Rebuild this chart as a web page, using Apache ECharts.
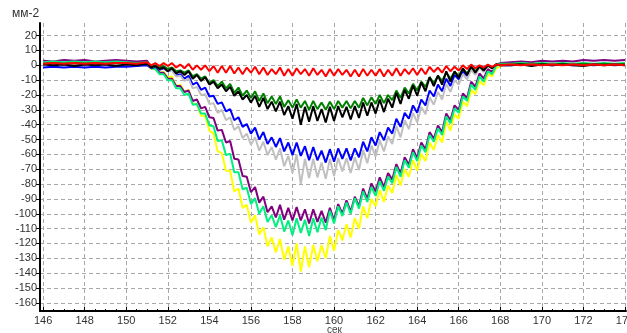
<!DOCTYPE html>
<html>
<head>
<meta charset="utf-8">
<script src="https://cdn.jsdelivr.net/npm/echarts@6/dist/echarts.min.js"></script>
<style>
  html, body { margin: 0; padding: 0; background: #fff; }
  #chart { width: 627px; height: 333px; }
</style>
</head>
<body>
<div id="chart"></div>
<script>
// time, s
const times = [
  146, 146.5, 147, 147.5, 148, 148.5, 149, 149.5, 150, 150.5,
  151, 151.2, 151.4, 151.6, 151.8, 152, 152.2, 152.4, 152.6, 152.8,
  153, 153.2, 153.4, 153.6, 153.8, 154, 154.2, 154.4, 154.6, 154.8,
  155, 155.2, 155.4, 155.6, 155.8, 156, 156.2, 156.4, 156.6, 156.8,
  157, 157.2, 157.4, 157.6, 157.8, 158, 158.2, 158.4, 158.6, 158.8,
  159, 159.2, 159.4, 159.6, 159.8, 160, 160.2, 160.4, 160.6, 160.8,
  161, 161.2, 161.4, 161.6, 161.8, 162, 162.2, 162.4, 162.6, 162.8,
  163, 163.2, 163.4, 163.6, 163.8, 164, 164.2, 164.4, 164.6, 164.8,
  165, 165.2, 165.4, 165.6, 165.8, 166, 166.2, 166.4, 166.6, 166.8,
  167, 167.2, 167.4, 167.6, 167.8, 168,
  168.5, 169, 169.5, 170, 170.5, 171, 171.5, 172, 172.5, 173, 173.5, 174
]

const xTicks = [146, 148, 150, 152, 154, 156, 158, 160, 162, 164, 166, 168, 170, 172, 174]
const xMinorTicks = [
  146, 146.5, 147, 147.5, 148, 148.5, 149, 149.5, 150, 150.5, 151, 151.5, 152, 152.5,
  153, 153.5, 154, 154.5, 155, 155.5, 156, 156.5, 157, 157.5, 158, 158.5, 159, 159.5,
  160, 160.5, 161, 161.5, 162, 162.5, 163, 163.5, 164, 164.5, 165, 165.5, 166, 166.5,
  167, 167.5, 168, 168.5, 169, 169.5, 170, 170.5, 171, 171.5, 172, 172.5, 173, 173.5, 174
]
const yTicks = [20, 10, 0, -10, -20, -30, -40, -50, -60, -70, -80, -90, -100, -110, -120, -130, -140, -150, -160]

const yellow = [
  1, 1.5, 1, 1.5, 1, 1.5, 1, 1.5, 1, 1.5,
  1, -2.5, -2, -5, -4.5, -8, -7.5, -14, -13, -18,
  -16.5, -26, -26, -34, -34, -44, -46, -58, -59, -71,
  -71, -85, -83, -96, -94, -106, -101, -114, -109, -122,
  -116, -126, -117, -131, -122, -135, -120, -139, -122, -136,
  -121, -132, -121, -130, -115, -125, -111, -118, -107, -116,
  -103, -110, -95, -103, -90, -95, -84, -92, -81, -86,
  -74, -81, -70, -75, -64, -71, -59.5, -64.5, -52, -57,
  -47, -52, -38, -44, -33, -36, -24.5, -27.5, -16.5, -19.5,
  -10.5, -13.5, -6, -7.5, -2, -0.5,
  0.5, 1, 0.5, 1, 0.5, 1, 0.5, 1, 0.5, 1, 0.5, 1
]

const mint = [
  2, 2.5, 2, 2.5, 2, 2.5, 2, 2.5, 2, 1.5,
  2, -2, -2.5, -6, -6, -10, -10, -15.5, -15.5, -20,
  -19, -26.5, -26, -32.5, -32.5, -40.5, -41, -51, -50.5, -60.5,
  -59.5, -72, -72, -83.5, -82.5, -93.5, -89.5, -100, -95, -105.5,
  -101, -109, -101, -112, -104.5, -114.5, -103, -113, -104, -115,
  -103, -112.5, -102.5, -111, -98, -106.5, -95, -101.5, -92.5, -100,
  -89.5, -96.5, -85, -92, -82, -88, -78, -84.5, -75, -79.5,
  -68.5, -75, -64, -69, -58.5, -64.5, -54, -58.5, -47, -51.5,
  -42.5, -47, -34.5, -39, -29, -32, -21, -24, -13, -16.5,
  -7.5, -11, -4, -6, -0.5, 1,
  1, 1.5, 1, 1.5, 1, 1.5, 1, 1.5, 1, 1.5, 1, 1.5
]

const purple = [
  3, 2.5, 3.5, 3, 3.5, 2.5, 3, 3.5, 3, 2.5,
  3, -1, -1.5, -5, -5, -9, -9, -14, -14, -18,
  -17, -24, -23, -29, -28, -35, -35.5, -44, -43.5, -52,
  -51, -63, -63.5, -74.5, -75, -85.5, -82, -92.5, -88.5, -99,
  -95, -102.5, -94, -104, -96, -104.5, -95.5, -104.5, -97, -106.5,
  -97, -105.5, -98, -106, -96, -104.5, -93.5, -100, -91, -98.5,
  -88.5, -95, -83, -90, -79.5, -85, -75.5, -82, -72.5, -77,
  -66.5, -73, -62, -67, -56.5, -62.5, -52, -56.5, -45, -49.5,
  -40.5, -45, -32.5, -37, -27, -30, -19, -22, -11, -14.5,
  -5.5, -9, -2.5, -4.5, 0.5, 1.5,
  2, 2.5, 2, 3, 2.5, 3, 2.5, 3.5, 3, 3.5, 3, 3.5
]

const gray = [
  0.5, 1, 0.5, 1, 0.5, 1, 0.5, 1, 0.5, 0.5,
  1, -1.5, -0.5, -2.5, -1.5, -4, -3, -7.5, -7, -10.5,
  -9, -15.5, -14.5, -20, -19.5, -26, -25.5, -32, -30, -37,
  -35, -43.5, -41, -49, -46, -53.5, -48.5, -57.5, -51.5, -60.5,
  -55, -63.5, -56, -68, -61, -72.5, -60, -80, -63, -76,
  -63, -75.5, -65.5, -76.5, -63, -74.5, -62.5, -71.5, -62.5, -72.5,
  -62, -70.5, -57, -66, -54, -61.5, -50.5, -58, -48, -53,
  -41, -48.5, -37, -43, -32, -38.5, -28, -33, -21.5, -26.5,
  -18, -23, -12.5, -18, -10, -13, -6, -9.5, -3, -6.5,
  -1.5, -4.5, -0.5, -2.5, 0.5, 0.5,
  0.5, 1, 0.5, 1, 0.5, 1, 0.5, 1, 0.5, 1, 0.5, 1
]

const blue = [
  -1.5, -1, -1.5, -1, -1.5, -1, -1.5, -1, -1, -0.5,
  0, -2, -1, -3, -2, -4, -3, -7, -6, -9,
  -7, -13, -11.5, -16.5, -15, -21, -20.5, -26, -25, -31,
  -29.5, -37, -35, -41.5, -39.5, -46, -42, -50, -45, -53,
  -48.5, -55, -49, -58, -52, -60.5, -52, -61, -54.5, -64,
  -55, -64, -57.5, -65.5, -56.5, -65, -56, -63, -56, -64,
  -56, -62, -51.5, -58, -48.5, -54, -45, -50.5, -42, -46,
  -36, -41.5, -32, -36, -27, -32, -23, -27, -17, -21,
  -13, -17.5, -9, -14, -6.5, -9.5, -4, -7, -1.5, -5,
  -1, -3, 0, -1.5, 0.5, 0,
  0, 0.5, 0, 0.5, 0, 0.5, 0, 0.5, 0, 0.5, 0, 0.5
]

const green = [
  1, 1.5, 1, 1.5, 1, 1.5, 1, 1.5, 1, 1,
  1.5, -1, 0, -1.5, -0.5, -2.5, -1.5, -4, -3.5, -5,
  -3.5, -7.5, -6, -9, -7.5, -12, -10, -14, -11, -15.5,
  -12.5, -18.5, -15, -20.5, -17, -22, -17.5, -24, -19, -25.5,
  -21, -26, -21, -28, -23.5, -28.5, -23, -28.5, -24, -30,
  -24, -29.5, -25, -30, -24.5, -29.5, -24, -28.5, -24, -29,
  -24, -28.5, -22, -27, -21.5, -26, -20, -25.5, -20, -23.5,
  -17, -22, -15, -19, -12.5, -17, -11, -14.5, -8, -12,
  -7, -10.5, -5, -9, -4.5, -7, -2.5, -5.5, -1, -4,
  -1, -3, 0, -1.5, 0.5, 0.5,
  0.5, 1, 0.5, 1, 0.5, 1, 0.5, 1, 0.5, 1, 0.5, 1
]

const black = [
  0.5, 0, 0.5, -0.5, 0.5, 0, 0.5, -0.5, 0.5, 0,
  1, -1.5, -0.5, -2.5, -1.5, -4, -2, -5.5, -4, -6.5,
  -4, -9, -6.5, -10.5, -8, -13, -11, -15.5, -13, -17.5,
  -14.5, -20.5, -17.5, -23, -20, -25, -20.5, -28, -22, -29.5,
  -24.5, -31, -24.5, -33.5, -27.5, -36, -26, -40, -28, -38,
  -27.5, -37.5, -29.5, -38.5, -28, -37.5, -27.5, -35, -28, -36.5,
  -27.5, -35.5, -25, -34, -25, -32.5, -23, -31.5, -22.5, -28.5,
  -18.5, -26, -16.5, -22.5, -13.5, -20.5, -11.5, -17.5, -8, -14,
  -7, -13, -4, -11, -4, -8.5, -2, -6.5, -0.5, -5,
  -0.5, -3.5, 0, -2, 0.5, 0,
  0, 0.5, -0.5, 0.5, 0, 0.5, 0, -0.5, 0.5, 0, 0.5, 0
]

const red = [
  1, 1.5, 1, 1.5, 1, 1.5, 1, 1.5, 1.5, 1,
  2, 0, 1.5, -0.5, 1.5, -0.5, 1.5, -1.5, 0.5, -2,
  1, -3, 0, -3, 0, -4, -0.5, -5, -0.5, -5,
  -0.5, -5.5, -1.5, -6, -1.5, -5, -1, -6, -1.5, -6.5,
  -2.5, -6, -1.5, -7, -2.5, -7, -2, -6, -2.5, -7,
  -2, -6.5, -3, -7.5, -2.5, -7, -2.5, -6.5, -3, -7.5,
  -3, -7.5, -2.5, -7, -3, -7, -2.5, -7.5, -3, -7,
  -2, -7, -2.5, -6, -2, -6.5, -2, -6, -1, -4.5,
  -1.5, -5, -0.5, -4, -1, -3.5, 0, -2.5, 0.5, -2,
  0, -1.5, 0.5, -1, 0.5, 0,
  0.5, 0, 0.5, 0, 0.5, 0, 0.5, 0, 0.5, 0, 0.5, 0
]

// drawing order: first is at the bottom
const lines = [
  { name: 'yellow', values: yellow, color: '#ffff00' },
  { name: 'purple', values: purple, color: '#800080' },
  { name: 'mint', values: mint, color: '#00f080' },
  { name: 'blue', values: blue, color: '#0000ff' },
  { name: 'gray', values: gray, color: '#c0c0c0' },
  { name: 'green', values: green, color: '#008000' },
  { name: 'black', values: black, color: '#000000' },
  { name: 'red', values: red, color: '#ff0000' },
]

const font = '"Liberation Sans", Arial, sans-serif'
const gridLine = { show: true, lineStyle: { color: '#a8a8a8', type: [4, 3], width: 1 } }

const chart = echarts.init(document.getElementById('chart'), null, { renderer: 'canvas' })

chart.setOption({
  animation: false,
  backgroundColor: '#fff',
  title: {
    text: 'мм-2',
    left: 7,
    top: 3,
    textStyle: { fontSize: 12, fontWeight: 'normal', color: '#333', fontFamily: font },
  },
  // x axis unit under the labels
  graphic: [
    {
      type: 'text',
      left: 327,
      top: 325,
      style: { text: 'сек', fontSize: 10, fill: '#444', fontFamily: font },
    },
  ],
  grid: { left: 40, right: 1, top: 23, bottom: 22, containLabel: false, outerBoundsMode: 'none' },
  xAxis: [
    {
      type: 'value',
      position: 'bottom',
      min: 145.85,
      max: 174.05,
      axisLine: { show: true, onZero: false, lineStyle: { color: '#000', width: 2 } },
      axisTick: { show: true, customValues: xTicks, inside: true, length: 4, lineStyle: { color: '#000' } },
      axisLabel: { customValues: xTicks, color: '#333', fontSize: 11, margin: 4, fontFamily: font },
      splitLine: gridLine,
    },
    {
      type: 'value',
      position: 'bottom',
      min: 145.85,
      max: 174.05,
      axisLine: { show: false, onZero: false },
      axisTick: { show: true, customValues: xMinorTicks, inside: true, length: 2, lineStyle: { color: '#000' } },
      axisLabel: { show: false },
      splitLine: { show: false },
    },
  ],
  yAxis: {
    type: 'value',
    min: -165.5,
    max: 28.5,
    axisLine: { show: true, onZero: false, lineStyle: { color: '#000', width: 2 } },
    axisTick: { show: true, customValues: yTicks, length: 4, lineStyle: { color: '#000' } },
    axisLabel: { customValues: yTicks, color: '#333', fontSize: 11, margin: 3, fontFamily: font },
    splitLine: gridLine,
  },
  series: lines.map((l) => ({
    name: l.name,
    type: 'line',
    xAxisIndex: 0,
    showSymbol: false,
    symbol: 'none',
    data: times.map((t, i) => [t, l.values[i]]),
    lineStyle: { color: l.color, width: 2 },
    itemStyle: { color: l.color },
  })),
})
</script>
</body>
</html>
